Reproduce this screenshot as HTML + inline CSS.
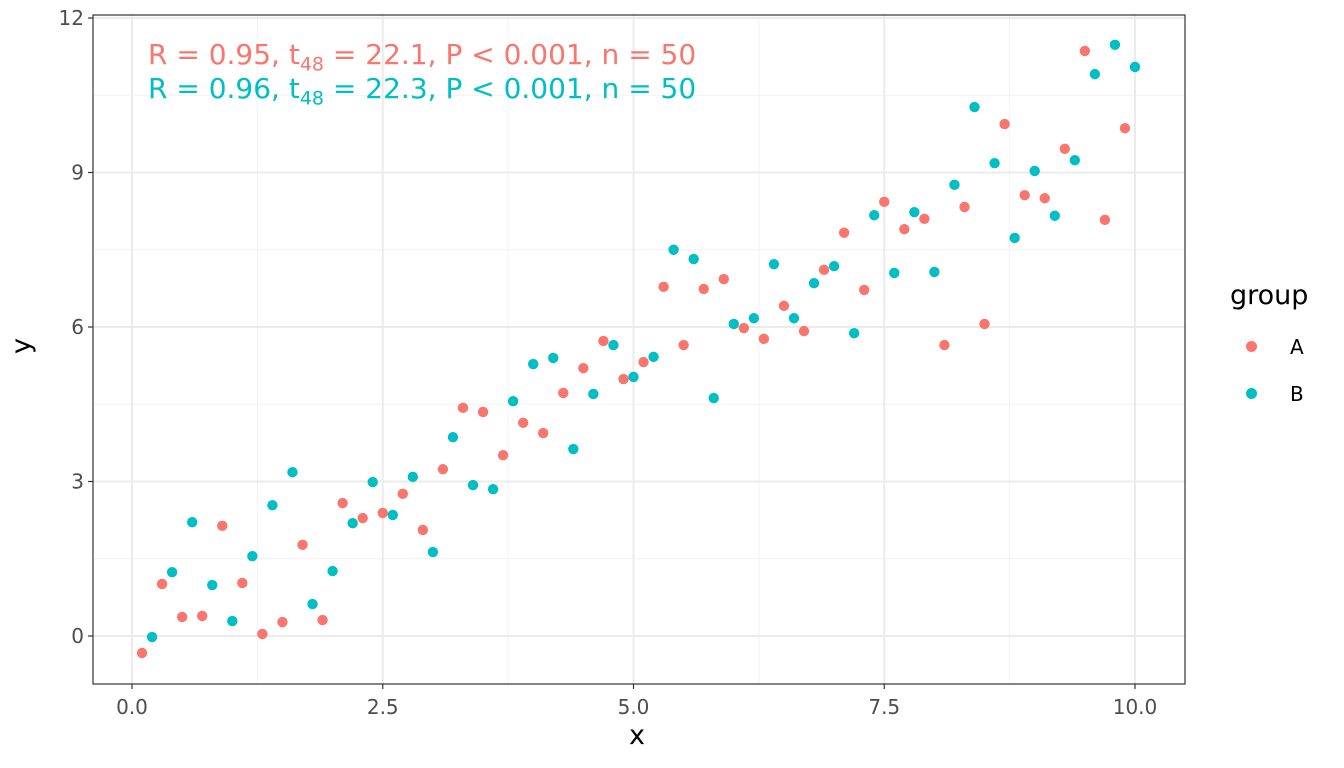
<!DOCTYPE html>
<html><head><meta charset="utf-8"><style>
html,body{margin:0;padding:0;background:#fff;}
svg{display:block;font-family:"DejaVu Sans","Liberation Sans",sans-serif;}
</style></head><body>
<svg id="chart" width="1344" height="768">
<rect x="0" y="0" width="1344" height="768" fill="#fff"/>
<g id="grid"></g><g id="points"></g><g id="axes"></g>
</svg>
<script>
const xA=[0.1,0.3,0.5,0.7,0.9,1.1,1.3,1.5,1.7,1.9,2.1,2.3,2.5,2.7,2.9,3.1,3.3,3.5,3.7,3.9,4.1,4.3,4.5,4.7,4.9,5.1,5.3,5.5,5.7,5.9,6.1,6.3,6.5,6.7,6.9,7.1,7.3,7.5,7.7,7.9,8.1,8.3,8.5,8.7,8.9,9.1,9.3,9.5,9.7,9.9];
const yA=[-0.33,1.01,0.37,0.39,2.14,1.03,0.04,0.27,1.77,0.31,2.58,2.29,2.39,2.76,2.06,3.24,4.43,4.35,3.51,4.14,3.94,4.72,5.20,5.73,4.99,5.32,6.78,5.65,6.74,6.93,5.98,5.77,6.41,5.92,7.11,7.83,6.72,8.43,7.90,8.10,5.65,8.33,6.06,9.94,8.56,8.50,9.46,11.36,8.08,9.86];
const xB=[0.2,0.4,0.6,0.8,1.0,1.2,1.4,1.6,1.8,2.0,2.2,2.4,2.6,2.8,3.0,3.2,3.4,3.6,3.8,4.0,4.2,4.4,4.6,4.8,5.0,5.2,5.4,5.6,5.8,6.0,6.2,6.4,6.6,6.8,7.0,7.2,7.4,7.6,7.8,8.0,8.2,8.4,8.6,8.8,9.0,9.2,9.4,9.6,9.8,10.0];
const yB=[-0.02,1.24,2.21,0.99,0.29,1.55,2.54,3.18,0.62,1.26,2.19,2.99,2.35,3.09,1.63,3.86,2.93,2.85,4.56,5.28,5.40,3.63,4.70,5.65,5.03,5.42,7.50,7.32,4.62,6.06,6.17,7.22,6.17,6.85,7.18,5.88,8.17,7.05,8.23,7.07,8.76,10.27,9.18,7.73,9.03,8.16,9.24,10.91,11.48,11.05];
const xTicks=[0,2.5,5,7.5,10];
const xTickLabels=["0.0","2.5","5.0","7.5","10.0"];
const yTicks=[0,3,6,9,12];
const yTickLabels=["0","3","6","9","12"];
const ns="http://www.w3.org/2000/svg";
const L=93,R=1185,T=15,B=684;
function sx(v){return 132+v*100.3;}
function sy(v){return 636-v*51.5;}
function mk(tag,attrs,parent,txt){const e=document.createElementNS(ns,tag);for(const k in attrs)e.setAttribute(k,attrs[k]);if(txt!==undefined)e.textContent=txt;parent.appendChild(e);return e;}
const grid=document.getElementById('grid'),pts=document.getElementById('points'),ax=document.getElementById('axes');
for(let i=0;i<xTicks.length-1;i++){const v=(xTicks[i]+xTicks[i+1])/2;const l=mk('line',{x1:sx(v),x2:sx(v),y1:T,y2:B,stroke:'#f2f2f2','stroke-width':1},grid);

}
for(let i=0;i<yTicks.length-1;i++){const v=(yTicks[i]+yTicks[i+1])/2;const l=mk('line',{x1:L,x2:R,y1:sy(v),y2:sy(v),stroke:'#f2f2f2','stroke-width':1},grid);

}
xTicks.forEach((v,i)=>{const l=mk('line',{x1:sx(v),x2:sx(v),y1:T,y2:B,stroke:'#ebebeb','stroke-width':2},grid);


mk('line',{x1:sx(v),x2:sx(v),y1:B,y2:B+5,stroke:'#333','stroke-width':1.2},ax);
const t=mk('text',{x:sx(v),y:B+30,'text-anchor':'middle','font-size':20,fill:'#4d4d4d'},ax,xTickLabels[i]);

});
yTicks.forEach((v,i)=>{const l=mk('line',{x1:L,x2:R,y1:sy(v),y2:sy(v),stroke:'#ebebeb','stroke-width':2},grid);


mk('line',{x1:L-5,x2:L,y1:sy(v),y2:sy(v),stroke:'#333','stroke-width':1.2},ax);
const t=mk('text',{x:L-9,y:sy(v)+7,'text-anchor':'end','font-size':20,fill:'#4d4d4d'},ax,yTickLabels[i]);

});
function series(xs,ys,col,name){xs.forEach((x,i)=>{const c=mk('circle',{cx:sx(x),cy:sy(ys[i]),r:5.2,fill:col},pts);

});}
series(xA,yA,'#F8766D','point-group-a');
series(xB,yB,'#00BFC4','point-group-b');
const fr=mk('rect',{x:L,y:T,width:R-L,height:B-T,fill:'none',stroke:'#333','stroke-width':1.2},ax);


</script>
<div style="position:absolute;left:0;top:0;width:1344px;height:768px;pointer-events:none;font-family:'DejaVu Sans','Liberation Sans',sans-serif;">
<div style="position:absolute;left:148px;top:39px;font-size:28px;line-height:32px;color:#F8766D;white-space:nowrap;">R = 0.95, t<sub style="font-size:19px;line-height:0">48</sub> = 22.1, P &lt; 0.001, n = 50</div>
<div style="position:absolute;left:148px;top:73px;font-size:28px;line-height:32px;color:#00BFC4;white-space:nowrap;">R = 0.96, t<sub style="font-size:19px;line-height:0">48</sub> = 22.3, P &lt; 0.001, n = 50</div>
<div style="position:absolute;left:629px;top:720px;font-size:27px;line-height:32px;color:#000;">x</div>
<div style="position:absolute;left:14px;top:330px;font-size:27px;line-height:32px;color:#000;transform:rotate(-90deg);">y</div>
<div style="position:absolute;left:1230px;top:280px;font-size:27px;line-height:32px;color:#000;">group</div>
<div style="position:absolute;left:1246px;top:335px;font-size:20px;color:#000;"><span style="display:inline-block;width:11px;height:11px;border-radius:50%;background:#F8766D;margin-right:33px;vertical-align:2px;"></span>A</div>
<div style="position:absolute;left:1246px;top:382px;font-size:20px;color:#000;"><span style="display:inline-block;width:11px;height:11px;border-radius:50%;background:#00BFC4;margin-right:33px;vertical-align:2px;"></span>B</div>
</div>
</body></html>
